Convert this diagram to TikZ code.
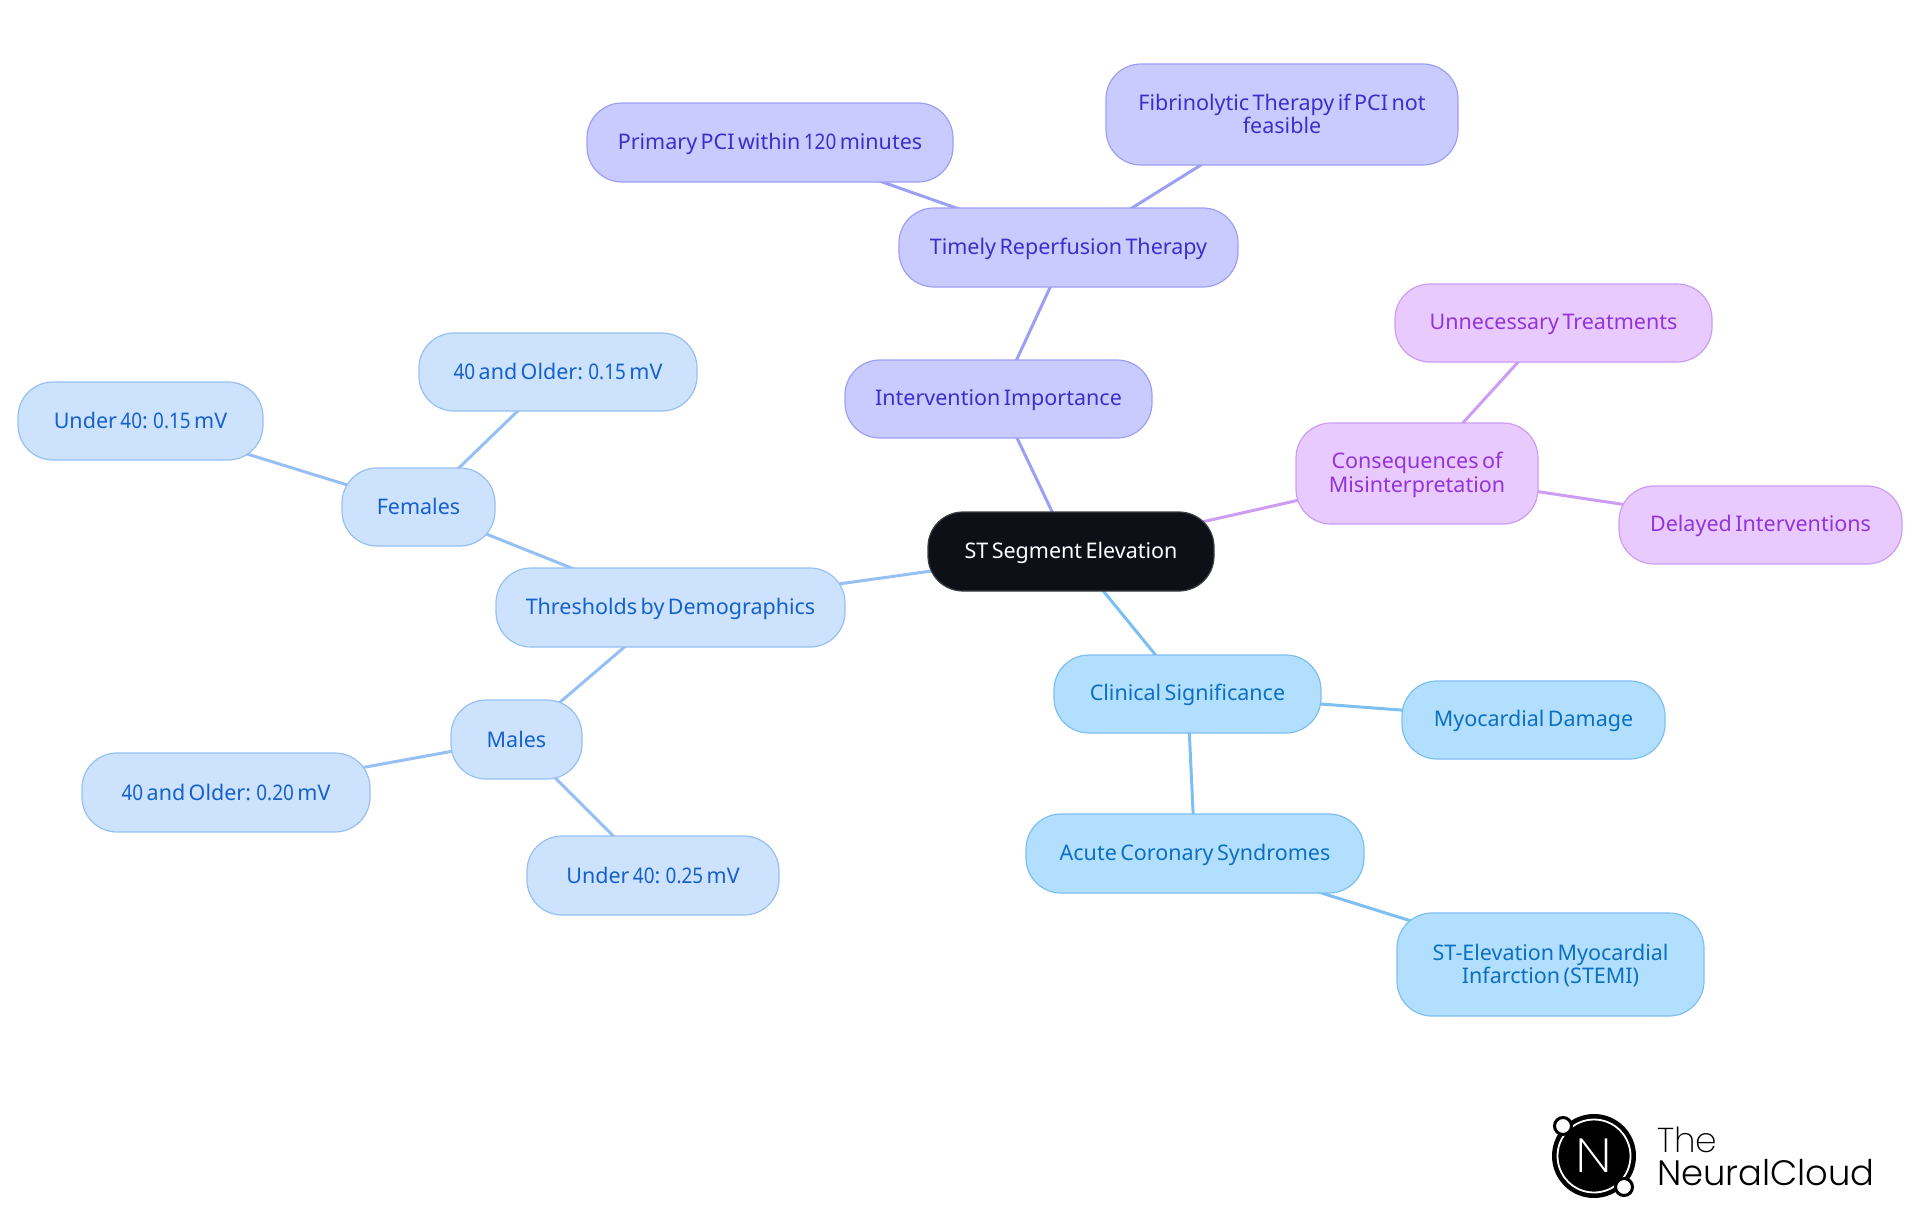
\documentclass[tikz,border=0pt]{standalone}
\usepackage{fontspec}
\usetikzlibrary{backgrounds}
\setmainfont[WordSpace=0.62]{Noto Sans}
\newfontfamily\digfont[FakeStretch=0.88,WordSpace=0.62]{Noto Sans}
\newcommand{\dg}[1]{{\digfont #1}}
\newfontfamily\logothin{Poppins ExtraLight}
\newfontfamily\logolight{Poppins Light}
\newfontfamily\logoreg{Poppins}
\definecolor{rootfill}{HTML}{0D1117}
\definecolor{rootedge}{HTML}{3A3F45}
\definecolor{cyanfill}{HTML}{B3DFFF}
\definecolor{cyanline}{HTML}{7CBFF2}
\definecolor{cyantext}{HTML}{0B6FC2}
\definecolor{bluefill}{HTML}{CCE2FD}
\definecolor{blueline}{HTML}{96C0F3}
\definecolor{bluetext}{HTML}{1561CC}
\definecolor{indfill}{HTML}{C9CBFF}
\definecolor{indline}{HTML}{9D9FF5}
\definecolor{indtext}{HTML}{3A2FCB}
\definecolor{purfill}{HTML}{E8CAFF}
\definecolor{purline}{HTML}{CC9DF3}
\definecolor{purtext}{HTML}{9333DB}
\newcommand{\st}{\rule[-4pt]{0pt}{23pt}}
\tikzset{
  x=1pt,y=-1pt,
  mapnode/.style={rectangle,rounded corners=35pt,inner sep=0pt,line width=1.2pt,align=center,
    font=\fontsize{21.5pt}{23pt}\selectfont},
  rootnode/.style={mapnode,fill=rootfill,draw=rootedge,text=white},
  cyannode/.style={mapnode,fill=cyanfill,draw=cyanline,text=cyantext},
  bluenode/.style={mapnode,fill=bluefill,draw=blueline,text=bluetext},
  indnode/.style={mapnode,fill=indfill,draw=indline,text=indtext},
  purnode/.style={mapnode,fill=purfill,draw=purline,text=purtext},
  size/.style n args={2}{minimum width=#1pt,minimum height=#2pt},
  link/.style={line width=3pt},
  cyanlink/.style={link,draw=cyanline},
  bluelink/.style={link,draw=blueline},
  indlink/.style={link,draw=indline},
  purlink/.style={link,draw=purline},
  logotext/.style={anchor=base west,inner sep=0pt,text=black},
}
\begin{document}
\begin{tikzpicture}
\useasboundingbox (0,0) rectangle (1920,1215);
\node[rootnode,size={286}{79}] (root) at (1071,551.5) {\st ST Segment Elevation};
\node[cyannode,size={267}{78}] (clin) at (1187.5,694) {\st Clinical Significance};
\node[cyannode,size={263}{78}] (myo) at (1533.5,720) {\st Myocardial Damage};
\node[cyannode,size={338}{79}] (acs) at (1195,853.5) {\st Acute Coronary Syndromes};
\node[cyannode,size={307}{103}] (stemi) at (1550.5,964.5) {\st ST-Elevation Myocardial\\[-2pt]\st Infarction (STEMI)};
\node[purnode,size={242}{101}] (cons) at (1417,473.5) {\st Consequences of\\[-2pt]\st Misinterpretation};
\node[purnode,size={317}{78}] (unn) at (1553.5,323) {\st Unnecessary Treatments};
\node[purnode,size={283}{78}] (del) at (1760.5,525) {\st Delayed Interventions};
\node[indnode,size={307}{78}] (int) at (998.5,399) {\st Intervention Importance};
\node[indnode,size={339}{79}] (tim) at (1068.5,247.5) {\st Timely Reperfusion Therapy};
\node[indnode,size={366}{79}] (pri) at (770,142.5) {\st Primary PCI within \dg{120} minutes};
\node[indnode,size={352}{101}] (fib) at (1282,114.5) {\st Fibrinolytic Therapy if PCI not\\[-2pt]\st feasible};
\node[bluenode,size={349}{79}] (thr) at (670.5,607.5) {\st Thresholds by Demographics};
\node[bluenode,size={153}{78}] (fem) at (418.5,507) {\st Females};
\node[bluenode,size={278}{78}] (fold) at (558,372) {\st \dg{40} and Older: \dg{0.15} mV};
\node[bluenode,size={245}{78}] (fyoung) at (140.5,421) {\st Under \dg{40}: \dg{0.15} mV};
\node[bluenode,size={131}{79}] (mal) at (516.5,739.5) {\st Males};
\node[bluenode,size={288}{79}] (mold) at (226,792.5) {\st \dg{40} and Older: \dg{0.20} mV};
\node[bluenode,size={252}{79}] (myoung) at (653,875.5) {\st Under \dg{40}: \dg{0.25} mV};
\begin{scope}[on background layer]
\draw[cyanlink] (root.center) -- (clin.center);
\draw[cyanlink] (clin.center) -- (myo.center);
\draw[cyanlink] (clin.center) -- (acs.center);
\draw[cyanlink] (acs.center) -- (stemi.center);
\draw[purlink] (root.center) -- (cons.center);
\draw[purlink] (cons.center) -- (unn.center);
\draw[purlink] (cons.center) -- (del.center);
\draw[indlink] (root.center) -- (int.center);
\draw[indlink] (int.center) -- (tim.center);
\draw[indlink] (tim.center) -- (pri.center);
\draw[indlink] (tim.center) -- (fib.center);
\draw[bluelink] (root.center) -- (thr.center);
\draw[bluelink] (thr.center) -- (fem.center);
\draw[bluelink] (fem.center) -- (fold.center);
\draw[bluelink] (fem.center) -- (fyoung.center);
\draw[bluelink] (thr.center) -- (mal.center);
\draw[bluelink] (mal.center) -- (mold.center);
\draw[bluelink] (mal.center) -- (myoung.center);
\end{scope}
% logo
\fill[black] (1594,1156) circle (42);
\draw[white,line width=1.8pt] (1594,1156) circle (36.5);
\node[inner sep=0pt,text=white,xscale=1.15,font=\logothin\fontsize{48pt}{48pt}\selectfont] (logon) at (1594,1156) {N};
\draw[fill=white,draw=black,line width=3pt] (1563,1126) circle (8.5);
\draw[fill=white,draw=black,line width=3pt] (1624,1187) circle (8.5);
\node[logotext,font=\logothin\fontsize{34.5pt}{34.5pt}\selectfont] (logothe) at (1657,1152) {The};
\node[logotext,font=\logolight\fontsize{35.3pt}{35.3pt}\selectfont] (logoname) at (1657,1185) {NeuralCloud};
\end{tikzpicture}
\end{document}
